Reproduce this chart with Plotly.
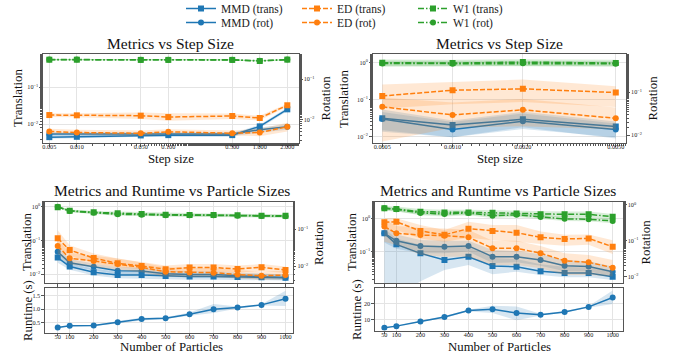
import plotly.graph_objects as go

# ---------------- data ----------------
step_sizes_a = [0.005, 0.01, 0.05, 0.1, 0.5, 1.0, 2.0]
step_labels_a = ["0.005", "0.010", "0.050", "0.100", "0.500", "1.000", "2.000"]
step_sizes_b = [0.0005, 0.001, 0.002, 0.005]
step_labels_b = ["0.0005", "0.0010", "0.0020", "0.0050"]
particles = [50, 100, 200, 300, 400, 500, 600, 700, 800, 900, 1000]
particle_labels = ["50", "100", "200", "300", "400", "500", "600", "700", "800", "900", "1000"]

# top-left panel
tl_mmd_trans = [0.0045, 0.0046, 0.0050, 0.0051, 0.0051, 0.0088, 0.0254]
tl_mmd_trans_lo = [0.0041, 0.0042, 0.0046, 0.0046, 0.0046, 0.0078, 0.0225]
tl_mmd_trans_hi = [0.0050, 0.0051, 0.0055, 0.0056, 0.0056, 0.0098, 0.0285]
tl_mmd_rot = [0.0043, 0.0043, 0.0043, 0.0043, 0.0043, 0.0055, 0.0065]
tl_mmd_rot_lo = [0.0038, 0.0038, 0.0038, 0.0038, 0.0038, 0.0047, 0.0055]
tl_mmd_rot_hi = [0.0048, 0.0048, 0.0048, 0.0048, 0.0048, 0.0063, 0.0076]
tl_ed_trans = [0.0178, 0.0175, 0.0171, 0.0157, 0.0168, 0.0148, 0.0327]
tl_ed_trans_lo = [0.0158, 0.0155, 0.0140, 0.0125, 0.0140, 0.0128, 0.0300]
tl_ed_trans_hi = [0.0200, 0.0198, 0.0210, 0.0200, 0.0195, 0.0170, 0.0360]
tl_ed_rot = [0.0050, 0.0047, 0.0045, 0.0049, 0.0045, 0.0047, 0.0065]
tl_ed_rot_lo = [0.0043, 0.0041, 0.0039, 0.0042, 0.0039, 0.0038, 0.0050]
tl_ed_rot_hi = [0.0058, 0.0055, 0.0053, 0.0057, 0.0053, 0.0058, 0.0082]
tl_w1_trans = [0.557, 0.557, 0.550, 0.550, 0.550, 0.514, 0.560]
tl_w1_trans_lo = [0.54, 0.54, 0.535, 0.535, 0.535, 0.50, 0.545]
tl_w1_trans_hi = [0.575, 0.575, 0.567, 0.567, 0.567, 0.53, 0.577]
tl_w1_rot = [0.310, 0.310, 0.305, 0.305, 0.305, 0.290, 0.310]
tl_w1_rot_lo = [0.30, 0.30, 0.295, 0.295, 0.295, 0.28, 0.30]
tl_w1_rot_hi = [0.32, 0.32, 0.315, 0.315, 0.315, 0.30, 0.32]

# top-right panel
tr_mmd_trans = [0.031, 0.0203, 0.029, 0.0184]
tr_mmd_trans_lo = [0.0146, 0.0095, 0.0178, 0.0087]
tr_mmd_trans_hi = [0.046, 0.0245, 0.042, 0.0223]
tr_mmd_rot = [0.0239, 0.0136, 0.0211, 0.0136]
tr_mmd_rot_lo = [0.012, 0.009, 0.014, 0.009]
tr_mmd_rot_hi = [0.040, 0.022, 0.035, 0.021]
tr_ed_trans = [0.125, 0.179, 0.195, 0.155]
tr_ed_trans_lo = [0.057, 0.074, 0.086, 0.063]
tr_ed_trans_hi = [0.256, 0.30, 0.35, 0.23]
tr_ed_rot = [0.0459, 0.0297, 0.039, 0.0248]
tr_ed_rot_lo = [0.0072, 0.0149, 0.0163, 0.0136]
tr_ed_rot_hi = [0.076, 0.058, 0.070, 0.044]
tr_w1_trans = [1.0, 0.98, 1.04, 0.98]
tr_w1_trans_lo = [0.80, 0.80, 0.82, 0.80]
tr_w1_trans_hi = [1.22, 1.20, 1.25, 1.20]
tr_w1_rot = [0.465, 0.46, 0.47, 0.46]
tr_w1_rot_lo = [0.40, 0.40, 0.41, 0.40]
tr_w1_rot_hi = [0.54, 0.53, 0.54, 0.53]

# bottom-left panel
bl_mmd_trans = [0.031, 0.0168, 0.0115, 0.0095, 0.0095, 0.0089, 0.0085, 0.0085, 0.0083, 0.0081, 0.0078]
bl_mmd_trans_lo = [0.022, 0.0135, 0.0092, 0.0076, 0.0076, 0.0072, 0.0069, 0.0069, 0.0068, 0.0067, 0.0065]
bl_mmd_trans_hi = [0.042, 0.021, 0.0145, 0.0118, 0.0118, 0.011, 0.0104, 0.0104, 0.0101, 0.0098, 0.0094]
bl_mmd_rot = [0.0245, 0.0123, 0.0095, 0.0074, 0.0073, 0.0062, 0.0059, 0.0059, 0.0054, 0.0051, 0.0049]
bl_mmd_rot_lo = [0.018, 0.0098, 0.0077, 0.006, 0.006, 0.0051, 0.0049, 0.0049, 0.0045, 0.0043, 0.0041]
bl_mmd_rot_hi = [0.033, 0.0155, 0.0118, 0.0092, 0.009, 0.0076, 0.0072, 0.0072, 0.0066, 0.0061, 0.0059]
bl_ed_trans = [0.116, 0.052, 0.030, 0.021, 0.0176, 0.014, 0.0157, 0.0157, 0.0143, 0.016, 0.0134]
bl_ed_trans_lo = [0.06, 0.035, 0.021, 0.016, 0.014, 0.011, 0.012, 0.012, 0.011, 0.0125, 0.0108]
bl_ed_trans_hi = [0.20, 0.072, 0.041, 0.029, 0.023, 0.018, 0.020, 0.020, 0.018, 0.020, 0.017]
bl_ed_rot = [0.035, 0.0162, 0.0137, 0.0113, 0.0092, 0.0070, 0.0067, 0.0066, 0.0059, 0.0054, 0.0057]
bl_ed_rot_lo = [0.022, 0.011, 0.0095, 0.008, 0.0068, 0.0052, 0.005, 0.005, 0.0045, 0.0042, 0.0044]
bl_ed_rot_hi = [0.052, 0.023, 0.019, 0.016, 0.0125, 0.0094, 0.009, 0.0088, 0.0078, 0.0071, 0.0074]
bl_w1_trans = [0.97, 0.76, 0.68, 0.64, 0.61, 0.58, 0.57, 0.57, 0.555, 0.54, 0.54]
bl_w1_trans_lo = [0.91, 0.70, 0.62, 0.57, 0.55, 0.52, 0.51, 0.51, 0.50, 0.49, 0.49]
bl_w1_trans_hi = [1.03, 0.82, 0.74, 0.71, 0.68, 0.65, 0.63, 0.63, 0.62, 0.60, 0.60]
bl_w1_rot = [0.413, 0.315, 0.283, 0.257, 0.25, 0.24, 0.24, 0.24, 0.235, 0.23, 0.226]
bl_w1_rot_lo = [0.39, 0.29, 0.26, 0.235, 0.228, 0.22, 0.22, 0.22, 0.215, 0.21, 0.206]
bl_w1_rot_hi = [0.44, 0.34, 0.31, 0.28, 0.274, 0.262, 0.262, 0.262, 0.257, 0.25, 0.247]
bl_runtime = [0.31, 0.375, 0.387, 0.51, 0.63, 0.665, 0.815, 1.0, 1.065, 1.165, 1.40]
bl_runtime_lo = [0.29, 0.36, 0.37, 0.46, 0.58, 0.63, 0.76, 0.86, 1.03, 1.14, 1.12]
bl_runtime_hi = [0.33, 0.39, 0.40, 0.56, 0.68, 0.70, 0.88, 1.20, 1.10, 1.19, 1.70]

# bottom-right panel
br_mmd_trans = [0.355, 0.166, 0.089, 0.056, 0.070, 0.037, 0.035, 0.026, 0.023, 0.023, 0.0177]
br_mmd_trans_lo = [0.003, 0.004, 0.013, 0.028, 0.040, 0.021, 0.025, 0.020, 0.017, 0.017, 0.014]
br_mmd_trans_hi = [0.50, 0.25, 0.16, 0.13, 0.14, 0.065, 0.06, 0.042, 0.035, 0.033, 0.025]
br_mmd_rot = [0.162, 0.10, 0.072, 0.068, 0.072, 0.036, 0.036, 0.029, 0.020, 0.019, 0.0137]
br_mmd_rot_lo = [0.09, 0.06, 0.045, 0.045, 0.05, 0.024, 0.025, 0.02, 0.014, 0.014, 0.010]
br_mmd_rot_hi = [0.26, 0.15, 0.105, 0.10, 0.10, 0.055, 0.052, 0.042, 0.029, 0.027, 0.019]
br_ed_trans = [0.76, 0.79, 0.42, 0.32, 0.49, 0.42, 0.37, 0.27, 0.24, 0.25, 0.14]
br_ed_trans_lo = [0.45, 0.45, 0.25, 0.20, 0.26, 0.22, 0.20, 0.17, 0.15, 0.16, 0.085]
br_ed_trans_hi = [1.0, 1.0, 0.63, 0.45, 0.79, 0.63, 0.63, 0.40, 0.32, 0.33, 0.22]
br_ed_rot = [0.25, 0.162, 0.145, 0.139, 0.125, 0.062, 0.062, 0.045, 0.0278, 0.025, 0.0178]
br_ed_rot_lo = [0.094, 0.076, 0.040, 0.036, 0.036, 0.021, 0.021, 0.017, 0.011, 0.011, 0.010]
br_ed_rot_hi = [0.40, 0.26, 0.23, 0.22, 0.20, 0.10, 0.10, 0.072, 0.045, 0.040, 0.029]
br_w1_trans = [2.0, 1.9, 1.58, 1.51, 1.51, 1.47, 1.41, 1.32, 1.32, 1.32, 1.12]
br_w1_trans_lo = [1.7, 1.6, 1.3, 1.25, 1.28, 1.2, 1.15, 1.1, 1.1, 1.1, 0.95]
br_w1_trans_hi = [2.35, 2.25, 1.9, 1.8, 1.8, 1.75, 1.7, 1.6, 1.6, 1.6, 1.35]
br_w1_rot = [0.81, 0.76, 0.60, 0.56, 0.60, 0.50, 0.53, 0.46, 0.41, 0.40, 0.36]
br_w1_rot_lo = [0.72, 0.67, 0.52, 0.48, 0.52, 0.43, 0.46, 0.40, 0.36, 0.35, 0.31]
br_w1_rot_hi = [0.90, 0.85, 0.68, 0.64, 0.68, 0.57, 0.60, 0.53, 0.47, 0.46, 0.41]
br_runtime = [5.0, 6.0, 8.9, 11.6, 15.6, 16.4, 14.1, 13.1, 14.8, 17.9, 23.7]
br_runtime_lo = [4.8, 5.7, 8.4, 11.0, 15.0, 14.2, 9.6, 12.6, 14.3, 17.3, 19.7]
br_runtime_hi = [5.2, 6.3, 9.4, 12.2, 16.2, 18.6, 18.2, 13.6, 15.3, 18.5, 28.0]

# ---------------- style ----------------
W, H = 675, 358
SERIF = "Liberation Serif, Times New Roman, serif"
BLUE, ORANGE, GREEN = "#1f77b4", "#ff7f0e", "#2ca02c"
BAND = {BLUE: "rgba(31,119,180,0.18)", ORANGE: "rgba(255,127,14,0.18)", GREEN: "rgba(44,160,44,0.18)"}
SPINE = "#555555"
GRID = "#e4e4e4"
DASH = {"solid": "solid", "dash": "5px,2px", "dashdot": "6px,2px,1.5px,2px"}


def px_x(p):
    return p / W


def px_y(p):
    return 1 - p / H


fig = go.Figure()


def add_series(x, y, lo, hi, color, dash, symbol, name, xa, ya, legend, show):
    fig.add_trace(go.Scatter(
        x=list(x) + list(x)[::-1], y=list(hi) + list(lo)[::-1],
        fill="toself", fillcolor=BAND[color], line=dict(width=0), mode="lines",
        hoverinfo="skip", showlegend=False, xaxis=xa, yaxis=ya))
    fig.add_trace(go.Scatter(
        x=x, y=y, mode="lines+markers", name=name,
        line=dict(color=color, width=1.5, dash=DASH[dash]),
        marker=dict(symbol=symbol, size=6, color=color),
        xaxis=xa, yaxis=ya, legend=legend, showlegend=show))


def add_panel(x, data, xa, ya_t, ya_r, show):
    (mt, mtl, mth, mr, mrl, mrh, et, etl, eth, er, erl, erh, wt, wtl, wth, wr, wrl, wrh) = data
    add_series(x, mt, mtl, mth, BLUE, "solid", "square", "MMD (trans)", xa, ya_t, "legend", show)
    add_series(x, et, etl, eth, ORANGE, "dash", "square", "ED (trans)", xa, ya_t, "legend", show)
    add_series(x, wt, wtl, wth, GREEN, "dashdot", "square", "W1 (trans)", xa, ya_t, "legend", show)
    add_series(x, mr, mrl, mrh, BLUE, "solid", "circle", "MMD (rot)", xa, ya_r, "legend2", show)
    add_series(x, er, erl, erh, ORANGE, "dash", "circle", "ED (rot)", xa, ya_r, "legend2", show)
    add_series(x, wr, wrl, wrh, GREEN, "dashdot", "circle", "W1 (rot)", xa, ya_r, "legend2", show)


add_panel(step_sizes_a, (tl_mmd_trans, tl_mmd_trans_lo, tl_mmd_trans_hi, tl_mmd_rot, tl_mmd_rot_lo, tl_mmd_rot_hi,
                         tl_ed_trans, tl_ed_trans_lo, tl_ed_trans_hi, tl_ed_rot, tl_ed_rot_lo, tl_ed_rot_hi,
                         tl_w1_trans, tl_w1_trans_lo, tl_w1_trans_hi, tl_w1_rot, tl_w1_rot_lo, tl_w1_rot_hi),
          "x", "y", "y2", True)
add_panel(step_sizes_b, (tr_mmd_trans, tr_mmd_trans_lo, tr_mmd_trans_hi, tr_mmd_rot, tr_mmd_rot_lo, tr_mmd_rot_hi,
                         tr_ed_trans, tr_ed_trans_lo, tr_ed_trans_hi, tr_ed_rot, tr_ed_rot_lo, tr_ed_rot_hi,
                         tr_w1_trans, tr_w1_trans_lo, tr_w1_trans_hi, tr_w1_rot, tr_w1_rot_lo, tr_w1_rot_hi),
          "x2", "y3", "y4", False)
add_panel(particles, (bl_mmd_trans, bl_mmd_trans_lo, bl_mmd_trans_hi, bl_mmd_rot, bl_mmd_rot_lo, bl_mmd_rot_hi,
                      bl_ed_trans, bl_ed_trans_lo, bl_ed_trans_hi, bl_ed_rot, bl_ed_rot_lo, bl_ed_rot_hi,
                      bl_w1_trans, bl_w1_trans_lo, bl_w1_trans_hi, bl_w1_rot, bl_w1_rot_lo, bl_w1_rot_hi),
          "x3", "y5", "y6", False)
add_panel(particles, (br_mmd_trans, br_mmd_trans_lo, br_mmd_trans_hi, br_mmd_rot, br_mmd_rot_lo, br_mmd_rot_hi,
                      br_ed_trans, br_ed_trans_lo, br_ed_trans_hi, br_ed_rot, br_ed_rot_lo, br_ed_rot_hi,
                      br_w1_trans, br_w1_trans_lo, br_w1_trans_hi, br_w1_rot, br_w1_rot_lo, br_w1_rot_hi),
          "x5", "y8", "y9", False)


def add_runtime(x, y, lo, hi, xa, ya):
    fig.add_trace(go.Scatter(
        x=list(x) + list(x)[::-1], y=list(hi) + list(lo)[::-1],
        fill="toself", fillcolor=BAND[BLUE], line=dict(width=0), mode="lines",
        hoverinfo="skip", showlegend=False, xaxis=xa, yaxis=ya))
    fig.add_trace(go.Scatter(
        x=x, y=y, mode="lines+markers", line=dict(color=BLUE, width=1.5),
        marker=dict(symbol="circle", size=6, color=BLUE),
        showlegend=False, xaxis=xa, yaxis=ya))


add_runtime(particles, bl_runtime, bl_runtime_lo, bl_runtime_hi, "x4", "y7")
add_runtime(particles, br_runtime, br_runtime_lo, br_runtime_hi, "x6", "y10")

tickfont = dict(family=SERIF, size=6.2, color="#222")
base = dict(showline=True, linecolor=SPINE, linewidth=1.2, mirror=True, ticks="outside",
            ticklen=2.5, tickwidth=0.8, tickcolor=SPINE, tickfont=tickfont,
            showgrid=True, gridcolor=GRID, gridwidth=0.8, zeroline=False)
minor_log = dict(ticks="outside", ticklen=1.5, tickwidth=0.6, tickcolor=SPINE, showgrid=False)

SUP = {-2: "10<sup>−2</sup>", -1: "10<sup>−1</sup>", 0: "10<sup>0</sup>"}


def logy(rng, exps, domain, anchor, right=False, overlay=None):
    d = dict(type="log", range=rng, domain=domain, anchor=anchor,
             tickmode="array", tickvals=[10 ** e for e in exps], ticktext=[SUP[e] for e in exps],
             ticks="outside", ticklen=2.5, tickwidth=0.8, tickcolor=SPINE, tickfont=tickfont,
             zeroline=False, minor=minor_log)
    if right:
        d.update(side="right", overlaying=overlay, showline=False, showgrid=False)
    else:
        d.update(showline=True, linecolor=SPINE, linewidth=1.2, mirror=True,
                 showgrid=True, gridcolor=GRID, gridwidth=0.8)
    return d


TOP = [px_y(143), px_y(54)]
MET = [px_y(283.3), px_y(201.7)]
RUN_L = [px_y(332.5), px_y(288.3)]
RUN_R = [px_y(330.5), px_y(288.3)]
XTL = [px_x(43), px_x(299)]
XTR = [px_x(372.7), px_x(626.3)]
XBL = [px_x(45), px_x(292.7)]
XBR = [px_x(375), px_x(623)]
XSTAND = -5

fig.update_layout(
    xaxis=dict(base, type="log", domain=XTL, anchor="y", range=[-2.37, 0.429], ticklabelstandoff=XSTAND,
               tickmode="array", tickvals=step_sizes_a, ticktext=step_labels_a, minor=minor_log),
    yaxis=logy([-2.505, -0.1], [-2, -1], TOP, "x"),
    yaxis2=logy([-2.59, -0.37], [-2, -1], TOP, "x", right=True, overlay="y"),
    xaxis2=dict(base, type="log", domain=XTR, anchor="y3", range=[-3.342, -2.256], ticklabelstandoff=XSTAND,
                tickmode="array", tickvals=step_sizes_b, ticktext=step_labels_b, minor=minor_log),
    yaxis3=logy([-2.18, 0.237], [-2, -1, 0], TOP, "x2"),
    yaxis4=logy([-2.18, -0.11], [-2, -1], TOP, "x2", right=True, overlay="y3"),
    xaxis3=dict(base, domain=XBL, anchor="y5", range=[-3, 1030], tickmode="array",
                tickvals=particles, showticklabels=False),
    yaxis5=logy([-2.27, 0.148], [-2, -1, 0], MET, "x3"),
    yaxis6=logy([-2.47, -0.248], [-2, -1], MET, "x3", right=True, overlay="y5"),
    xaxis4=dict(base, domain=XBL, anchor="y7", range=[-3, 1030], tickmode="array", ticklabelstandoff=XSTAND,
                tickvals=particles, ticktext=particle_labels),
    yaxis7=dict(base, domain=RUN_L, anchor="x4", range=[0.124, 1.79], tickmode="array",
                tickvals=[0.5, 1.0, 1.5], ticktext=["0.5", "1.0", "1.5"]),
    xaxis5=dict(base, domain=XBR, anchor="y8", range=[11, 1043], tickmode="array",
                tickvals=particles, showticklabels=False),
    yaxis8=logy([-1.95, 0.5], [-1, 0], MET, "x5"),
    yaxis9=logy([-2.187, 0.092], [-2, -1, 0], MET, "x5", right=True, overlay="y8"),
    xaxis6=dict(base, domain=XBR, anchor="y10", range=[11, 1043], tickmode="array", ticklabelstandoff=XSTAND,
                tickvals=particles, ticktext=particle_labels),
    yaxis10=dict(base, domain=RUN_R, anchor="x6", range=[3.3, 29.4], tickmode="array",
                 tickvals=[10, 20], ticktext=["10", "20"]),
)

legend_common = dict(orientation="h", xanchor="left", yanchor="top", entrywidth=71,
                     entrywidthmode="pixels", bgcolor="rgba(0,0,0,0)", borderwidth=0,
                     font=dict(family=SERIF, size=11.5, color="#222"), itemsizing="trace",
                     traceorder="normal")
fig.update_layout(
    legend=dict(legend_common, x=px_x(181), y=px_y(-6)),
    legend2=dict(legend_common, x=px_x(181), y=px_y(8)),
)

annotations = []


def txt(text, x, y, size, angle=0):
    annotations.append(dict(text=text, x=px_x(x), y=px_y(y), xref="paper", yref="paper",
                            showarrow=False, xanchor="center", yanchor="middle", textangle=angle,
                            font=dict(family=SERIF, size=size, color="#111")))


txt("Metrics vs Step Size", 170.5, 43.5, 15.5)
txt("Metrics vs Step Size", 499, 43.5, 15.5)
txt("Metrics and Runtime vs Particle Sizes", 171.5, 190, 15.5)
txt("Metrics and Runtime vs Particle Sizes", 498.5, 190, 15.5)
txt("Translation", 17.5, 98.5, 12.8, -90)
txt("Rotation", 325, 98.5, 12.8, -90)
txt("Translation", 343.5, 98.5, 12.8, -90)
txt("Rotation", 652, 98.5, 12.8, -90)
txt("Step size", 170.5, 159, 12.8)
txt("Step size", 499.5, 159, 12.8)
txt("Translation", 26.5, 242.5, 12.8, -90)
txt("Rotation", 318.5, 242.5, 12.8, -90)
txt("Translation", 351.5, 242.5, 12.8, -90)
txt("Rotation", 645, 242.5, 12.8, -90)
txt("Runtime (s)", 27.5, 310.5, 12.8, -90)
txt("Runtime (s)", 356.5, 309.5, 12.8, -90)
txt("Number of Particles", 171.5, 347, 12.8)
txt("Number of Particles", 499, 347, 12.8)

fig.update_layout(
    width=W, height=H, margin=dict(l=0, r=0, t=0, b=0, autoexpand=False),
    paper_bgcolor="white", plot_bgcolor="white",
    annotations=annotations, hovermode=False,
    font=dict(family=SERIF),
)

fig.write_html("out.html", config={"displayModeBar": False})
